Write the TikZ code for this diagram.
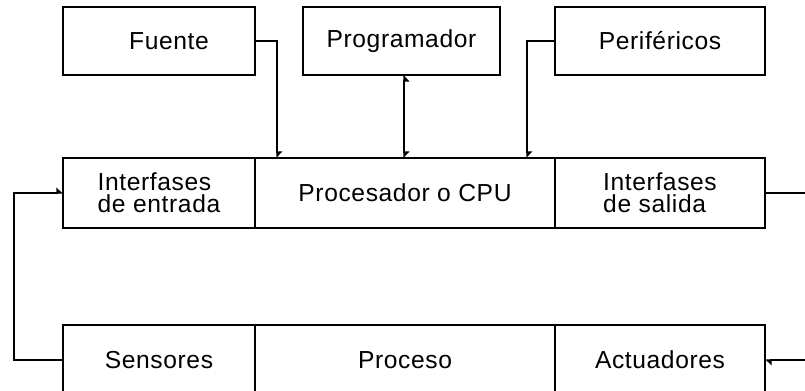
\documentclass[tikz,border=0pt]{standalone}
\usepackage{fontspec}
\setmainfont[LetterSpace=2.5]{Liberation Sans}
\usetikzlibrary{positioning,arrows.meta}

\begin{document}
\begin{tikzpicture}[x=0.03cm,y=-0.03cm,
    box/.style={rectangle,draw,line width=1.5pt,outer sep=0pt,
                minimum height=2.1cm,align=left,
                font=\fontsize{21}{19}\selectfont},
    link/.style={line width=1.5pt},
    tip/.style={-{Triangle[harpoon,length=5pt,width=9pt]}}]
  \clip (0,0) rectangle (805,391);
  % bloques de arriba
  \node[box,minimum width=5.76cm,minimum height=2.04cm] (fuente) at (159,41) {\hspace{0.6cm}Fuente};
  \node[box,minimum width=5.91cm,minimum height=2.04cm] (prog) at (401.5,41) {Programador};
  \node[box,minimum width=6.3cm,minimum height=2.04cm] (perif) at (660,41) {Periféricos};
  % fila del autómata
  \node[box,minimum width=5.76cm] (inent) at (159,193) {Interfases\\de entrada};
  \node[box,minimum width=9cm,right=0pt of inent] (cpu) {Procesador o CPU};
  \node[box,minimum width=6.3cm,right=0pt of cpu] (insal) {Interfases\\de salida};
  % fila del proceso
  \node[box,minimum width=5.76cm] (sens) at (159,360) {Sensores};
  \node[box,minimum width=9cm,right=0pt of sens] (proc) {Proceso};
  \node[box,minimum width=6.3cm,right=0pt of proc] (act) {Actuadores};
  \coordinate (izq) at (14,0);
  \coordinate (der) at (812,0);
  % conexiones
  \draw[link,tip] (fuente.east) -| ([xshift=0.66cm]inent.north east);
  \draw[link,{Triangle[harpoon,swap,length=5pt,width=9pt]}-{Triangle[harpoon,length=5pt,width=9pt]}]
    ([xshift=0.08cm]prog.south) -- ([xshift=0.08cm]prog.south |- cpu.north);
  \draw[link,tip] (perif.west) -| ([xshift=-0.84cm]insal.north west);
  \draw[link,tip] (sens.west) -- (sens.west -| izq) |- (inent.west);
  \draw[link] (insal.east) -- (insal.east -| der);
  \draw[link,tip] (act.east -| der) -- (act.east);
\end{tikzpicture}
\end{document}
